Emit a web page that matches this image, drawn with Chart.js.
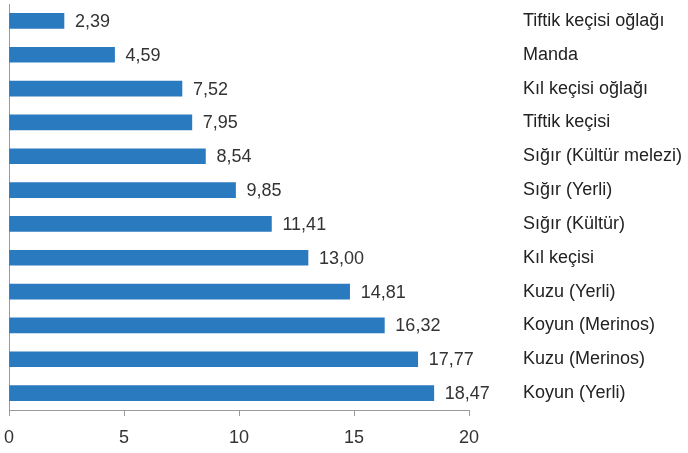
<!DOCTYPE html>
<html>
<head>
<meta charset="utf-8">
<script src="https://cdn.jsdelivr.net/npm/chart.js@4"></script>
<style>
  body { margin: 0; background: #fff; }
  #wrap { width: 688px; height: 453px; position: relative; }
</style>
</head>
<body>
<div id="wrap"><canvas id="chart"></canvas></div>
<script>
// Categories, top to bottom
const categories = [
    'Tiftik keçisi oğlağı', 'Manda', 'Kıl keçisi oğlağı', 'Tiftik keçisi',
    'Sığır (Kültür melezi)', 'Sığır (Yerli)', 'Sığır (Kültür)', 'Kıl keçisi',
    'Kuzu (Yerli)', 'Koyun (Merinos)', 'Kuzu (Merinos)', 'Koyun (Yerli)'
];
const values = [2.39, 4.59, 7.52, 7.95, 8.54, 9.85, 11.41, 13.00, 14.81, 16.32, 17.77, 18.47];
const xTicks = [0, 5, 10, 15, 20];

const barColor = '#2A7AC0';
const axisColor = '#9a9a9a';
const fontFamily = '"Liberation Sans", Arial, sans-serif';

// Value labels at the end of each bar
const valueLabels = {
    id: 'valueLabels',
    afterDatasetsDraw(chart) {
        const ctx = chart.ctx;
        const meta = chart.getDatasetMeta(0);
        ctx.save();
        ctx.font = '18px ' + fontFamily;
        ctx.fillStyle = '#333';
        ctx.textAlign = 'left';
        ctx.textBaseline = 'middle';
        meta.data.forEach((bar, i) => {
            const txt = values[i].toFixed(2).replace('.', ',');
            ctx.fillText(txt, bar.x + 11, bar.y + 1);
        });
        ctx.restore();
    }
};

// drop the extra padding chart.js adds around axis labels
function noPad(axis) {
    axis.paddingTop = 0;
    axis.paddingBottom = 0;
    axis.paddingLeft = 0;
    axis.paddingRight = 0;
}

new Chart(document.getElementById('chart'), {
    type: 'bar',
    data: {
        labels: categories,
        datasets: [{
            data: values,
            backgroundColor: barColor,
            barThickness: 15
        }]
    },
    options: {
        indexAxis: 'y',
        responsive: true,
        maintainAspectRatio: false,
        animation: false,
        layout: { padding: { left: 9, top: 4, right: 0, bottom: 0 } },
        plugins: {
            legend: { display: false },
            tooltip: { enabled: false }
        },
        scales: {
            x: {
                min: 0,
                max: 20,
                afterBuildTicks: axis => { axis.ticks = xTicks.map(v => ({ value: v })); },
                afterFit: axis => { axis.height = 43; noPad(axis); },
                grid: {
                    drawOnChartArea: true,
                    color: c => c.index === 0 ? axisColor : 'transparent',
                    tickColor: axisColor,
                    tickLength: 6
                },
                border: { display: true, color: axisColor },
                ticks: {
                    color: '#333',
                    padding: 11,
                    font: { size: 18, family: fontFamily }
                }
            },
            y: {
                position: 'right',
                afterFit: axis => { axis.width = 219; noPad(axis); },
                grid: { display: false },
                border: { display: false },
                ticks: {
                    color: '#222',
                    padding: 46,
                    crossAlign: 'near',
                    font: { size: 18, family: fontFamily }
                }
            }
        }
    },
    plugins: [valueLabels]
});
</script>
</body>
</html>
